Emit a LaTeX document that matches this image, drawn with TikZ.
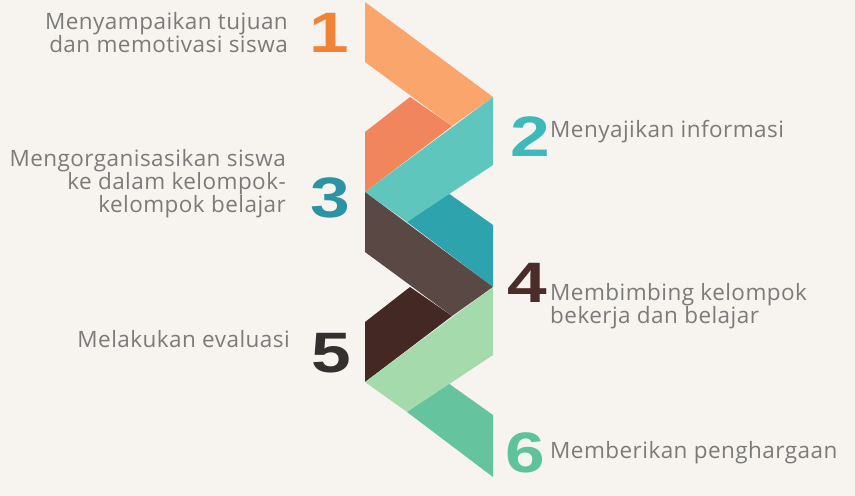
\documentclass[tikz,border=0pt]{standalone}
\usepackage{fontspec}
\usepackage{graphicx}
\setmainfont{Open Sans}[LetterSpace=2]
\newfontfamily\numfont{Liberation Sans}
\usetikzlibrary{positioning}

\definecolor{paper}{RGB}{247,244,239}
\definecolor{txtgray}{RGB}{123,123,123}
\definecolor{orangeA}{RGB}{249,165,107}
\definecolor{orangeB}{RGB}{241,133,91}
\definecolor{tealA}{RGB}{95,198,190}
\definecolor{tealB}{RGB}{45,163,174}
\definecolor{brownA}{RGB}{90,72,69}
\definecolor{brownB}{RGB}{67,40,35}
\definecolor{greenA}{RGB}{164,218,172}
\definecolor{greenB}{RGB}{101,195,157}
\definecolor{numone}{RGB}{240,132,54}
\definecolor{numtwo}{RGB}{61,185,185}
\definecolor{numthree}{RGB}{44,147,163}
\definecolor{numfour}{RGB}{74,44,40}
\definecolor{numfive}{RGB}{51,49,48}
\definecolor{numsix}{RGB}{94,195,154}

\newcommand{\bignum}[1]{\scalebox{1.25}[1]{\numfont\bfseries #1}}

\begin{document}
\begin{tikzpicture}[x=1bp,y=-1bp,
    num/.style={inner sep=0pt,anchor=base,font=\fontsize{57bp}{57bp}\selectfont},
    txt/.style={inner sep=0pt,text=txtgray,font=\fontsize{22.5bp}{23bp}\selectfont}]
    \useasboundingbox (0,0) rectangle (855,496);
    \fill[paper] (0,0) rectangle (855,496);
    % ribbon, upper half
    \fill[orangeB] (365,132) -- (410,97) -- (452,126) -- (365,192) -- cycle;
    \fill[orangeA] (365,2) -- (493,97) -- (452,126) -- (365,62) -- cycle;
    \fill[tealB] (448,193) -- (493,225) -- (493,287) -- (407,222) -- cycle;
    \fill[tealA] (493,97) -- (493,165) -- (407,222) -- (365,192) -- cycle;
    % ribbon, lower half
    \fill[brownB] (365,322) -- (410,287) -- (452,316) -- (365,382) -- cycle;
    \fill[brownA] (365,192) -- (493,287) -- (452,316) -- (365,252) -- cycle;
    \fill[greenB] (448,383) -- (493,415) -- (493,477) -- (407,412) -- cycle;
    \fill[greenA] (493,287) -- (493,355) -- (407,412) -- (365,382) -- cycle;
    % numbers
    \node[num,text=numone]   (n1) at (329,53)  {\bignum{1}};
    \node[num,text=numtwo]   (n2) at (530,157) {\bignum{2}};
    \node[num,text=numthree] (n3) at (330,218) {\bignum{3}};
    \node[num,text=numfour]  (n4) at (527,303) {\bignum{4}};
    \node[num,text=numfive]  (n5) at (331,372) {\bignum{5}};
    \node[num,text=numsix]   (n6) at (525,472) {\bignum{6}};
    % steps (base = last line)
    \node[txt,align=right,anchor=base east] (t1) at (288,53)
        {Menyampaikan tujuan\\dan memotivasi siswa};
    \node[txt,anchor=base west] (t2) at (550,138) {Menyajikan informasi};
    \node[txt,align=right,anchor=base east] (t3) at (286,213)
        {Mengorganisasikan siswa\\ke dalam kelompok-\\kelompok belajar};
    \node[txt,align=left,anchor=base west] (t4) at (550,323.5)
        {Membimbing kelompok\\bekerja dan belajar};
    \node[txt,anchor=base east] (t5) at (290,347) {Melakukan evaluasi};
    \node[txt,anchor=base west] (t6) at (550,458) {Memberikan penghargaan};
\end{tikzpicture}
\end{document}
